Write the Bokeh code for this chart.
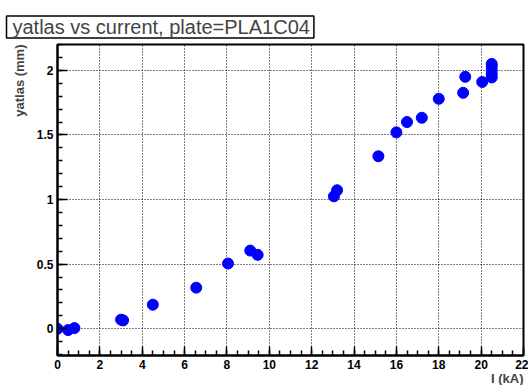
from bokeh.plotting import figure
from bokeh.models import Range1d, FixedTicker, Title
from bokeh.embed import file_html
from bokeh.resources import INLINE

current_kA = [0.0, 0.5, 0.8, 3.0, 3.1, 4.5, 6.55, 8.05, 9.1, 9.45,
              13.05, 13.2, 15.15, 16.0, 16.5, 17.2, 18.0, 19.15, 19.25, 20.05,
              20.5, 20.5, 20.5, 20.5, 20.5]
yatlas_mm = [0.0, -0.01, 0.005, 0.07, 0.065, 0.186, 0.318, 0.505, 0.605, 0.572,
             1.025, 1.072, 1.335, 1.52, 1.60, 1.633, 1.78, 1.826, 1.95, 1.91,
             2.05, 2.03, 2.0, 1.97, 1.945]

x_ticks = [0, 2, 4, 6, 8, 10, 12, 14, 16, 18, 20, 22]
x_minor = [i * 0.5 for i in range(0, 45)]
y_ticks = [0, 0.5, 1, 1.5, 2]
y_minor = [round(-0.2 + 0.1 * i, 2) for i in range(0, 25)]
y_tick_labels = {0: "0", 0.5: "0.5", 1: "1", 1.5: "1.5", 2: "2"}

X0, X1 = 0, 22
Y0, Y1 = -0.207, 2.2

W, H = 528, 385
FL, FR, FT, FB = 57, 523, 44, 355  # frame edges in page pixels
p = figure(width=W, height=H, output_backend="svg", toolbar_location=None,
           x_range=Range1d(X0, X1), y_range=Range1d(Y0, Y1),
           min_border_left=FL, min_border_right=W - FR,
           min_border_top=FT, min_border_bottom=H - FB,
           title="yatlas vs current, plate=PLA1C04")
p.title.text_font = "Liberation Sans"
p.title.text_font_size = "20px"
p.title.text_font_style = "normal"
p.title.align = "left"
p.title.offset = -51
p.title.standoff = 13
p.title.border_line_color = "black"
p.title.border_line_width = 1.5
p.title.background_fill_color = "white"
p.title.padding = dict(left=6, right=4, top=0, bottom=0)

p.background_fill_color = "white"
p.border_fill_color = "white"
p.outline_line_color = "black"
p.outline_line_width = 2

p.xaxis.ticker = FixedTicker(ticks=x_ticks, minor_ticks=x_minor)
p.yaxis.ticker = FixedTicker(ticks=y_ticks, minor_ticks=y_minor)
p.yaxis.major_label_overrides = y_tick_labels

for ax in (p.xaxis, p.yaxis):
    ax.axis_line_color = "black"
    ax.axis_line_width = 2
    ax.major_tick_out = 0
    ax.minor_tick_out = 0
    ax.major_tick_line_color = "black"
    ax.minor_tick_line_color = "black"
    ax.major_tick_line_width = 1.5
    ax.minor_tick_line_width = 1.5
    ax.major_label_text_font = "Liberation Sans"
    ax.major_label_text_font_style = "bold"
    ax.major_label_text_font_size = "12px"
    ax.major_label_text_color = "black"
p.xaxis.major_tick_in = 9
p.xaxis.minor_tick_in = 5
p.yaxis.major_tick_in = 10
p.yaxis.minor_tick_in = 5
p.xaxis.major_label_standoff = 4
p.yaxis.major_label_standoff = 4

p.grid.grid_line_color = "black"
p.grid.grid_line_dash = "1 2"
p.grid.grid_line_width = 1

p.scatter(current_kA, yatlas_mm, size=11, color="#0000ff")

ylabel = Title(text="yatlas (mm)", align="right", standoff=13,
               text_font="Liberation Sans", text_font_style="bold",
               text_font_size="13px")
p.add_layout(ylabel, "left")

xlabel = Title(text="I (kA)", align="right", standoff=-6,
               text_font="Liberation Sans", text_font_style="bold",
               text_font_size="13px")
p.add_layout(xlabel, "below")

out = file_html(p, INLINE)
open("out.html", "w").write(out)
